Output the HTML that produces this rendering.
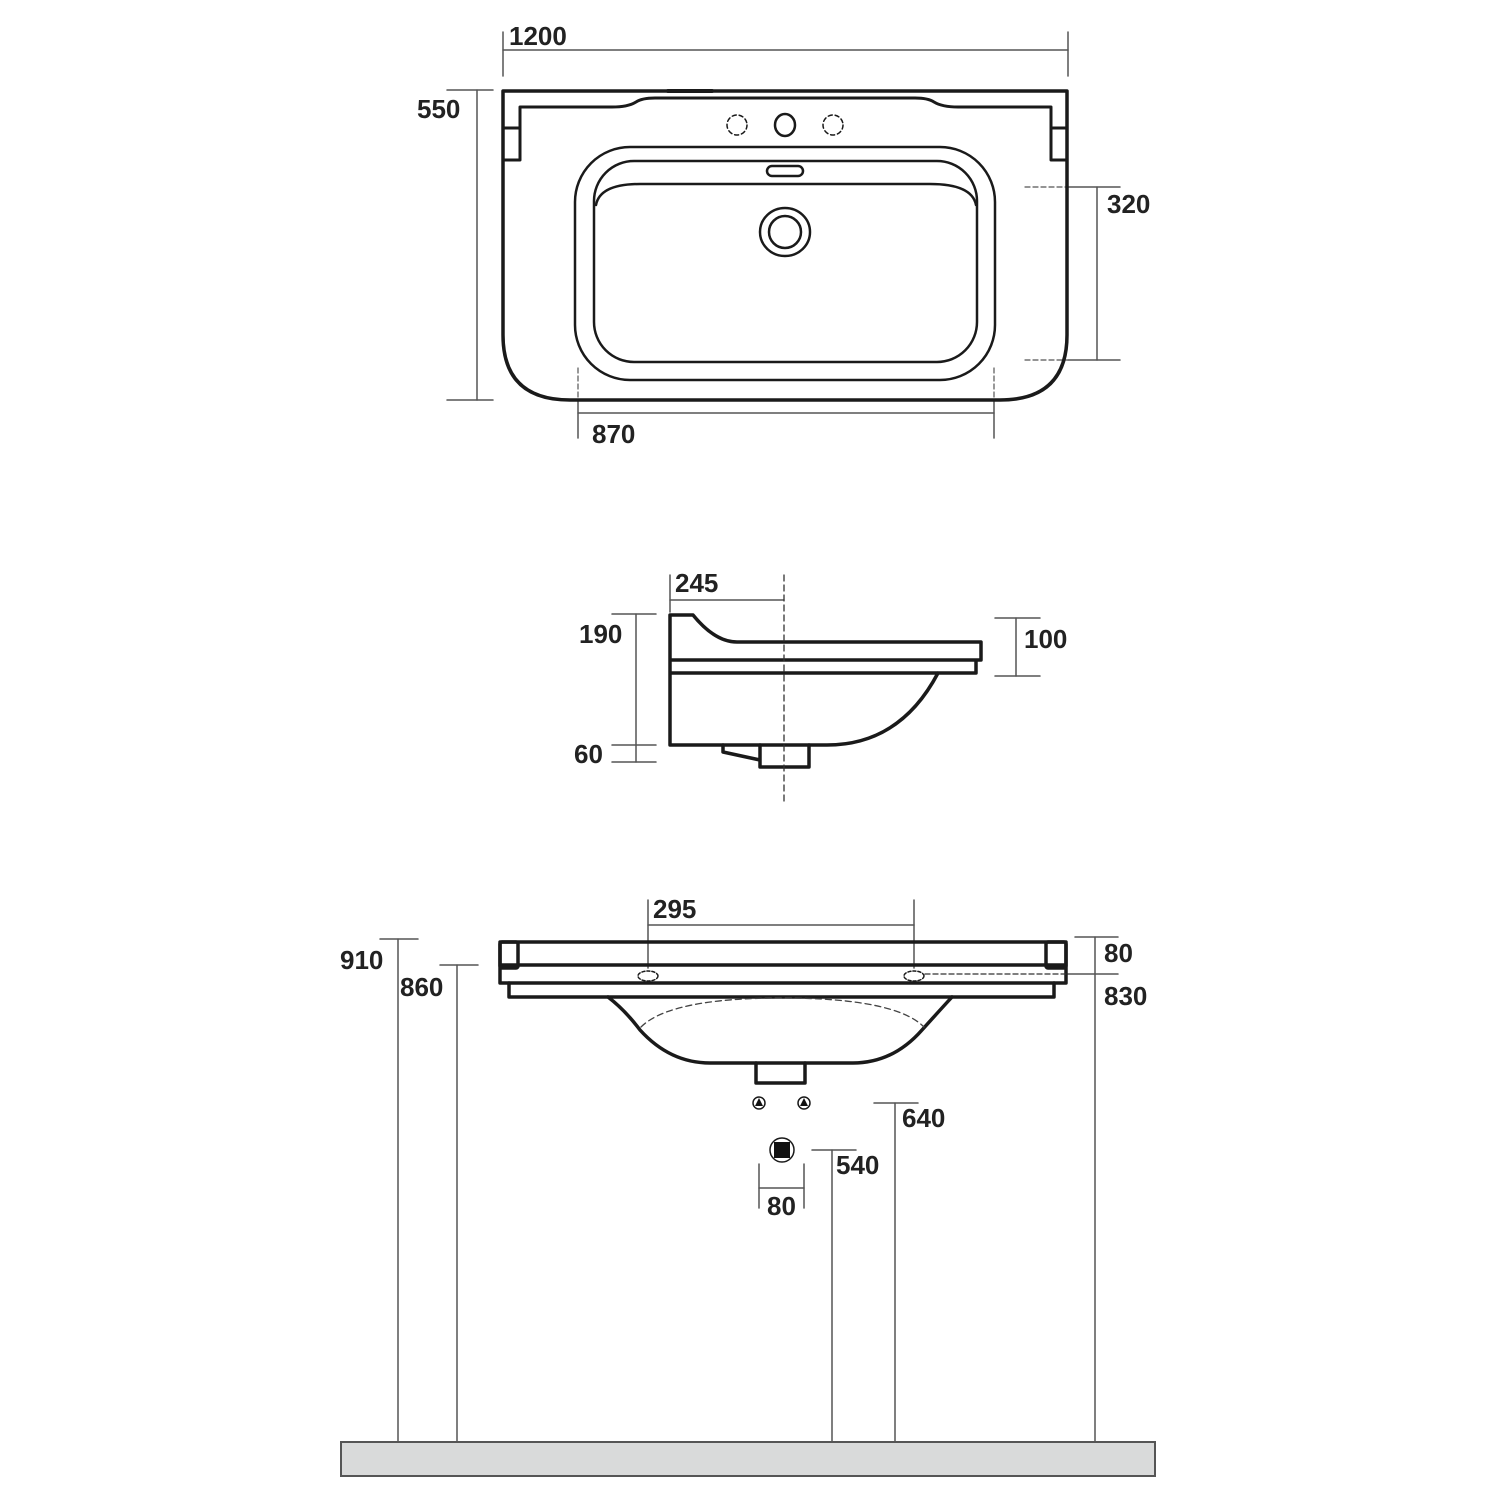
<!DOCTYPE html>
<html><head><meta charset="utf-8"><style>
html,body{margin:0;padding:0;background:#fff;}
svg{display:block;}
text{font-family:"Liberation Sans",Arial,sans-serif;font-weight:bold;font-size:26px;fill:#222;}
</style></head><body>
<svg width="1500" height="1500" viewBox="0 0 1500 1500" xmlns="http://www.w3.org/2000/svg">
<g fill="none" stroke="#1a1a1a" stroke-linecap="round" stroke-linejoin="round">
<!-- TOP VIEW -->
<g stroke="#555" stroke-width="1.5">
<line x1="503" y1="32" x2="503" y2="76"/><line x1="1068" y1="32" x2="1068" y2="76"/>
<line x1="503" y1="50" x2="1068" y2="50"/>
<line x1="447" y1="90" x2="493" y2="90"/><line x1="447" y1="400" x2="493" y2="400"/>
<line x1="477" y1="90" x2="477" y2="400"/>
<line x1="1068" y1="187" x2="1120" y2="187"/><line x1="1068" y1="360" x2="1120" y2="360"/>
<line x1="1097" y1="187" x2="1097" y2="360"/>
<line x1="578" y1="400" x2="578" y2="438"/><line x1="994" y1="400" x2="994" y2="438"/>
<line x1="578" y1="413" x2="994" y2="413"/>
</g>
<g stroke="#555" stroke-width="1.2" stroke-dasharray="5,3">
<line x1="1025" y1="187" x2="1068" y2="187"/><line x1="1025" y1="360" x2="1068" y2="360"/>
<line x1="578" y1="368" x2="578" y2="400"/><line x1="994" y1="368" x2="994" y2="400"/>
</g>
<path d="M503 91 H1067 V335 Q1067 400 1000 400 H570 Q503 400 503 335 Z" stroke-width="3.5"/>
<line x1="668" y1="91" x2="712" y2="91" stroke-width="4"/>
<path d="M503 128 H520 V160 H503 M520 160 V107 H612 Q628 107 636 102 Q642 98 655 98 H915 Q928 98 934 102 Q942 107 958 107 H1051 V160 M1067 128 H1051 V160 H1067" stroke-width="3"/>
<circle cx="737" cy="125" r="10" stroke-width="1.5" stroke-dasharray="4,3"/>
<ellipse cx="785" cy="125" rx="10" ry="11" stroke-width="2.5"/>
<circle cx="833" cy="125" r="10" stroke-width="1.5" stroke-dasharray="4,3"/>
<rect x="575" y="147" width="420" height="233" rx="55" stroke-width="2.5"/>
<rect x="594" y="161" width="383" height="201" rx="40" stroke-width="2.5"/>
<path d="M596 205 Q600 184 640 184 H930 Q972 184 976 205" stroke-width="2.5"/>
<rect x="767" y="166" width="36" height="10" rx="5" stroke-width="2.5"/>
<ellipse cx="785" cy="232" rx="25" ry="24" stroke-width="2.5"/>
<circle cx="785" cy="232" r="16" stroke-width="2.5"/>

<!-- SIDE VIEW -->
<g stroke="#555" stroke-width="1.5">
<line x1="670" y1="575" x2="670" y2="612"/>
<line x1="670" y1="600" x2="784" y2="600"/>
<line x1="612" y1="614" x2="656" y2="614"/>
<line x1="636" y1="614" x2="636" y2="762"/>
<line x1="612" y1="745" x2="656" y2="745"/><line x1="612" y1="762" x2="656" y2="762"/>
<line x1="995" y1="618" x2="1040" y2="618"/><line x1="995" y1="676" x2="1040" y2="676"/>
<line x1="1016" y1="618" x2="1016" y2="676"/>
</g>
<path d="M670 745 V615 H693 Q715 642 737 642 H981 V660 H670 M976 660 V673 H670 M938 673 Q900 745 827 745 H670" stroke-width="3.5"/>
<path d="M723 745 V752 L760 760 M760 745 V767 H809 V745" stroke-width="3.5"/>
<line x1="784" y1="575" x2="784" y2="805" stroke="#333" stroke-width="1.3" stroke-dasharray="6,4"/>

<!-- FRONT VIEW -->
<g stroke="#555" stroke-width="1.5">
<line x1="648" y1="900" x2="648" y2="968"/><line x1="914" y1="900" x2="914" y2="968"/>
<line x1="648" y1="925" x2="914" y2="925"/>
<line x1="380" y1="939" x2="418" y2="939"/><line x1="398" y1="939" x2="398" y2="1442"/>
<line x1="440" y1="965" x2="478" y2="965"/><line x1="457" y1="965" x2="457" y2="1442"/>
<line x1="1075" y1="937" x2="1118" y2="937"/><line x1="1068" y1="974" x2="1118" y2="974"/>
<line x1="1095" y1="937" x2="1095" y2="1442"/>
<line x1="874" y1="1103" x2="918" y2="1103"/><line x1="895" y1="1103" x2="895" y2="1442"/>
<line x1="812" y1="1150" x2="856" y2="1150"/><line x1="832" y1="1150" x2="832" y2="1442"/>
<line x1="759" y1="1164" x2="759" y2="1208"/><line x1="804" y1="1164" x2="804" y2="1208"/>
<line x1="759" y1="1188" x2="804" y2="1188"/>
</g>
<path d="M500 942 H1066 V983 H500 Z M500 965 H1066" stroke-width="3.5"/>
<rect x="500" y="942" width="18" height="26" rx="2" stroke-width="3.5"/>
<rect x="1046" y="942" width="20" height="26" rx="2" stroke-width="3.5"/>
<path d="M509 983 V997 H1054 V983" stroke-width="3.5"/>
<path d="M608 997 Q625 1010 640 1030 Q670 1063 710 1063 H853 Q893 1063 922 1030 Q940 1010 952 997" stroke-width="3.5"/>
<path d="M756 1063 V1083 H805 V1063" stroke-width="3.5"/>
<path d="M641 1027 Q670 998 782 998 Q895 998 924 1027" stroke="#444" stroke-width="1.3" stroke-dasharray="6,4"/>
<ellipse cx="648" cy="976" rx="10" ry="5" stroke-width="1.5" stroke-dasharray="3,2"/>
<ellipse cx="914" cy="976" rx="10" ry="5" stroke-width="1.5" stroke-dasharray="3,2"/>
<line x1="925" y1="974" x2="1068" y2="974" stroke="#333" stroke-width="1.3" stroke-dasharray="5,3"/>
<circle cx="759" cy="1103" r="6" stroke-width="1.5"/>
<circle cx="804" cy="1103" r="6" stroke-width="1.5"/>
<circle cx="782" cy="1150" r="12" stroke-width="1.5"/>
</g>
<path d="M759 1098 L763 1106 H755 Z M804 1098 L808 1106 H800 Z" fill="#111"/>
<rect x="774" y="1142" width="16" height="16" fill="#111"/>
<rect x="341" y="1442" width="814" height="34" fill="#d9dada" stroke="#555" stroke-width="2"/>

<text x="509" y="45">1200</text>
<text x="417" y="118">550</text>
<text x="1107" y="213">320</text>
<text x="592" y="443">870</text>
<text x="675" y="592">245</text>
<text x="579" y="643">190</text>
<text x="1024" y="648">100</text>
<text x="574" y="763">60</text>
<text x="653" y="918">295</text>
<text x="340" y="969">910</text>
<text x="400" y="996">860</text>
<text x="1104" y="962">80</text>
<text x="1104" y="1005">830</text>
<text x="902" y="1127">640</text>
<text x="836" y="1174">540</text>
<text x="767" y="1215">80</text>
</svg>
</body></html>
